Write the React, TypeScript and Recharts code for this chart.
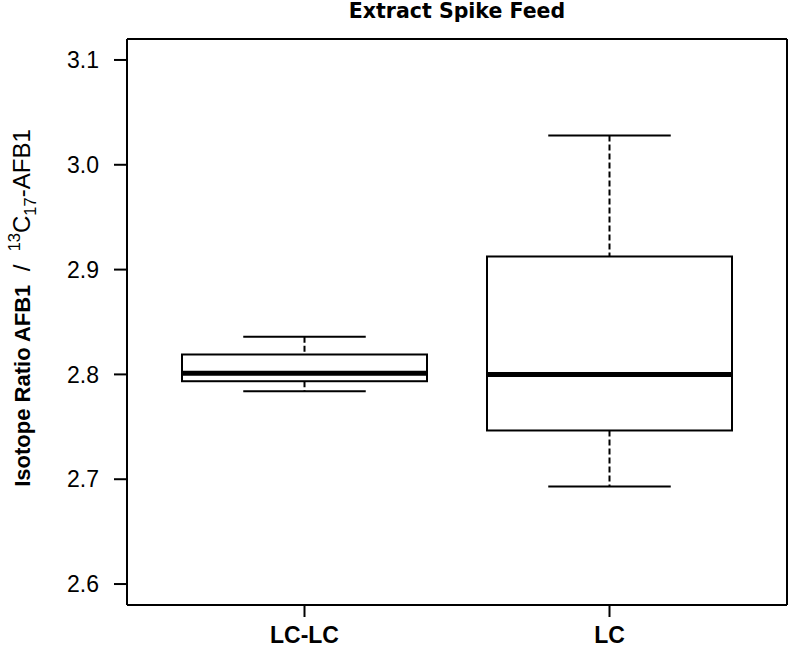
import React from 'react';
import { ComposedChart, Bar, XAxis, YAxis, Label } from 'recharts';

const categories = ['LC-LC', 'LC'];
const whiskerLow = [2.784, 2.693];
const q1Values = [2.7935, 2.7465];
const medianValues = [2.801, 2.8];
const q3Values = [2.819, 2.9125];
const whiskerHigh = [2.836, 3.028];
const yTicks = [2.6, 2.7, 2.8, 2.9, 3.0, 3.1];
const yDomain = [2.58, 3.12];

const data = categories.map((name, i) => ({
  name,
  range: [whiskerLow[i], whiskerHigh[i]],
  low: whiskerLow[i],
  q1: q1Values[i],
  median: medianValues[i],
  q3: q3Values[i],
  high: whiskerHigh[i],
}));

const FONT = '"Liberation Sans", Arial, Helvetica, sans-serif';

const BoxShape = (props: any) => {
  const { x, y, width, height, payload } = props;
  if (!payload) return null;
  const top = Math.min(y, y + height);
  const bottom = Math.max(y, y + height);
  const { low, high, q1, median, q3 } = payload;
  const py = (v: number) => bottom - ((v - low) / (high - low)) * (bottom - top);
  const cx = x + width / 2;
  const capHalf = width / 4;
  return (
    <g>
      <line x1={cx} x2={cx} y1={py(high)} y2={py(q3)} stroke="#000" strokeWidth={2} strokeDasharray="6 3" />
      <line x1={cx} x2={cx} y1={py(q1)} y2={py(low)} stroke="#000" strokeWidth={2} strokeDasharray="6 3" />
      <line x1={cx - capHalf} x2={cx + capHalf} y1={py(high)} y2={py(high)} stroke="#000" strokeWidth={2} />
      <line x1={cx - capHalf} x2={cx + capHalf} y1={py(low)} y2={py(low)} stroke="#000" strokeWidth={2} />
      <rect x={x} y={py(q3)} width={width} height={py(q1) - py(q3)} fill="#fff" stroke="#000" strokeWidth={2} />
      <line x1={x} x2={x + width} y1={py(median)} y2={py(median)} stroke="#000" strokeWidth={5} />
    </g>
  );
};

const YAxisTitle = (props: any) => {
  const vb = props.viewBox || { x: 0, y: 39, width: 127, height: 566 };
  const tx = vb.x + 30;
  const ty = vb.y + vb.height / 2 - 14;
  return (
    <text
      x={tx}
      y={ty}
      transform={`rotate(-90, ${tx}, ${ty})`}
      textAnchor="middle"
      fill="#000"
      fontFamily={FONT}
    >
      <tspan fontWeight="bold" fontSize={22}>Isotope Ratio AFB1</tspan>
      <tspan fontSize={24}>{'\u00a0\u00a0/\u00a0\u00a0'}</tspan>
      <tspan fontSize={16.5} dy={-10}>13</tspan>
      <tspan fontSize={24} dy={10}>C</tspan>
      <tspan fontSize={16.5} dy={6}>17</tspan>
      <tspan fontSize={24} dy={-6}>-AFB1</tspan>
    </text>
  );
};

export default function App() {
  return (
    <div style={{ position: 'absolute', left: 0, top: 0 }}>
      <ComposedChart
        width={791}
        height={648}
        data={data}
        margin={{ top: 38, right: 3, bottom: 0, left: 0 }}
        style={{ background: '#fff' }}
      >
        <XAxis
          dataKey="name"
          type="category"
          height={43}
          padding={{ left: 25, right: 25 }}
          axisLine={{ stroke: '#000', strokeWidth: 2 }}
          tickLine={{ stroke: '#000', strokeWidth: 2 }}
          tickSize={12}
          tickMargin={10}
          tick={{ fill: '#000', fontFamily: FONT, fontWeight: 'bold', fontSize: 23 }}
        />
        <XAxis
          xAxisId="top"
          orientation="top"
          dataKey="name"
          type="category"
          height={1}
          padding={{ left: 25, right: 25 }}
          axisLine={{ stroke: '#000', strokeWidth: 2 }}
          tick={false}
          tickLine={false}
        >
          <Label
            value="Extract Spike Feed"
            position="top"
            offset={20}
            style={{ fill: '#000', fontFamily: '"DejaVu Sans", sans-serif', fontWeight: 'bold', fontSize: 20.5 }}
          />
        </XAxis>
        <YAxis
          type="number"
          domain={yDomain}
          ticks={yTicks}
          allowDataOverflow
          width={127}
          axisLine={{ stroke: '#000', strokeWidth: 2 }}
          tickLine={{ stroke: '#000', strokeWidth: 2 }}
          tickSize={13}
          tickMargin={15}
          tickFormatter={(v: number) => v.toFixed(1)}
          tick={{ fill: '#000', fontFamily: FONT, fontSize: 23 }}
        >
          <Label content={YAxisTitle} />
        </YAxis>
        <YAxis
          yAxisId="right"
          orientation="right"
          type="number"
          domain={yDomain}
          allowDataOverflow
          width={1}
          axisLine={{ stroke: '#000', strokeWidth: 2 }}
          tick={false}
          tickLine={false}
        />
        <Bar dataKey="range" barSize={245} shape={BoxShape} isAnimationActive={false} />
      </ComposedChart>
    </div>
  );
}
